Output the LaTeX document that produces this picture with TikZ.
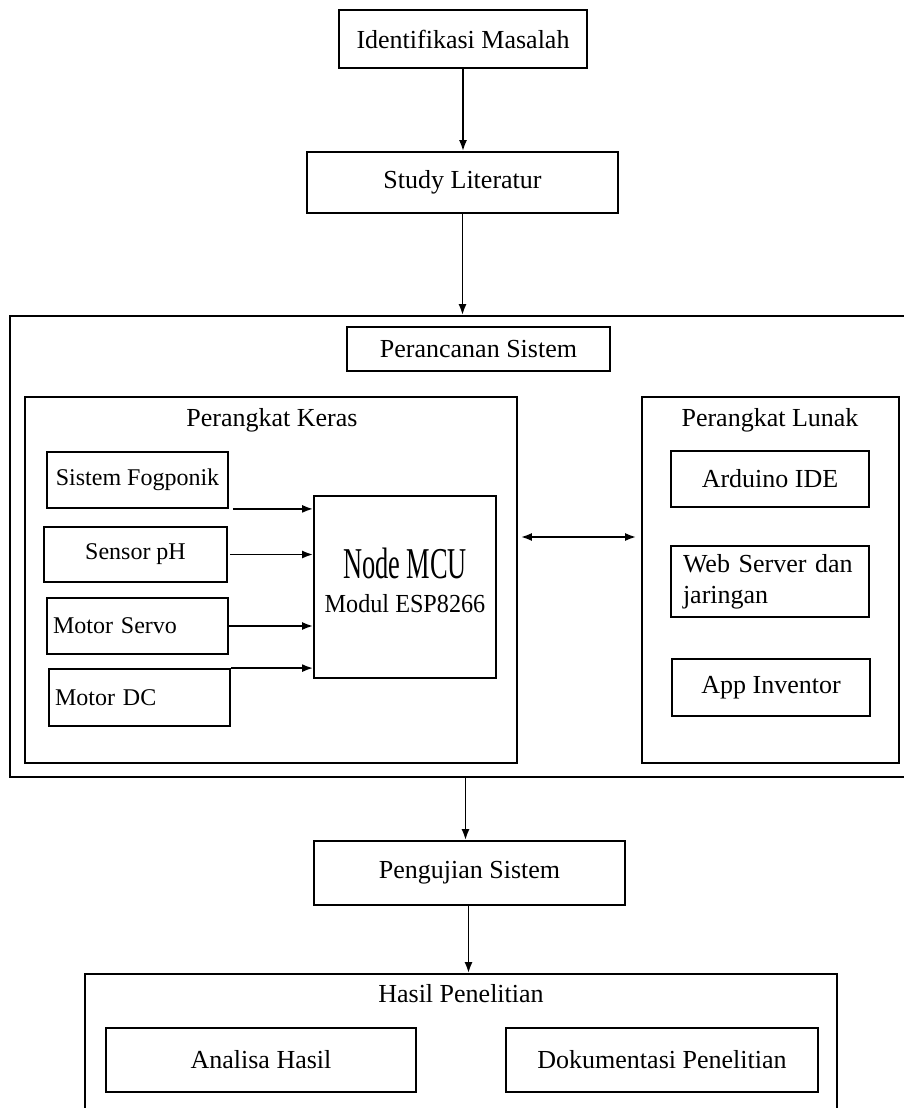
\documentclass[tikz,border=0pt]{standalone}
\usepackage{fontspec}
\setmainfont{Liberation Serif}
\usepackage{graphicx}
\usetikzlibrary{arrows.meta,positioning,calc}

\begin{document}
\begin{tikzpicture}[x=1pt, y=-1pt,
    box/.style={rectangle, draw, line width=1.8pt, inner sep=0pt, align=center,
                font=\fontsize{26}{31}\selectfont},
    hw/.style={box, minimum width=181pt, minimum height=56pt,
               font=\fontsize{24}{29}\selectfont},
    sw/.style={box, minimum width=198pt, minimum height=56pt},
    grp/.style={rectangle, draw, line width=1.8pt, inner sep=0pt},
    ttl/.style={anchor=base, font=\fontsize{26}{31}\selectfont},
    arr/.style={line width=1.8pt, -{Latex[length=11pt,width=8pt]}},
    darr/.style={line width=1.8pt, {Latex[length=11pt,width=8pt]}-{Latex[length=11pt,width=8pt]}}
  ]
    \useasboundingbox (0,0) rectangle (904,1108);
    \clip (0,0) rectangle (904,1108);
    \fill[white] (0,0) rectangle (904,1108);

    % Alur atas
    \node[box, minimum width=248pt, minimum height=58pt] (idm) at (463,39) {Identifikasi Masalah};
    \node[box, minimum width=311pt, minimum height=61pt] (stl) at (462.5,182.5) {Study Literatur};

    % Perancanan sistem
    \node[grp, minimum width=896pt, minimum height=461pt] (sys) at (458,546.5) {};
    \node[box, minimum width=263pt, minimum height=44pt] (prc) at (478.5,349) {Perancanan Sistem};

    % Perangkat keras
    \node[grp, minimum width=492pt, minimum height=366pt] (keras) at (271,580) {};
    \node[ttl] (kerasttl) at (272,426) {Perangkat Keras};
    \node[hw] (fog) at (137.5,480) {Sistem Fogponik};
    \node[hw, minimum width=183pt, minimum height=55pt] (ph) at (135.5,554.5) {Sensor pH};
    \node[hw, text width=169pt, align=left] (servo) at (137.5,626) {Motor Servo};
    \node[hw, text width=169pt, align=left, minimum height=57pt] (dc) at (139.5,697.5) {Motor DC};
    \node[box, minimum width=182pt, minimum height=182pt] (mcu) at (405,587) {};
    \node[align=center, font=\fontsize{26}{31}\selectfont] (mcutxt) at ([yshift=7pt]mcu.center)
      {\scalebox{0.6}[1]{\fontsize{44}{44}\selectfont Node MCU}\\[3pt]\scalebox{0.93}[1]{Modul ESP8266}};

    % Perangkat lunak
    \node[grp, minimum width=257pt, minimum height=366pt] (lunak) at (770.5,580) {};
    \node[ttl] (lunakttl) at (770,426) {Perangkat Lunak};
    \node[sw] (ide) at (770,479) {Arduino IDE};
    \node[sw, minimum height=71pt, text width=174pt, align=left] (web) at (770,581.5) {Web Server dan\\jaringan};
    \node[sw, minimum height=57pt] (app) at (771,687.5) {App Inventor};

    % Alur bawah
    \node[box, minimum width=311pt, minimum height=64pt] (uji) at (469.5,873) {Pengujian Sistem};
    \node[grp, minimum width=752pt, minimum height=138pt] (hasil) at (461,1043) {};
    \node[ttl] (hasilttl) at (461,1002) {Hasil Penelitian};
    \node[box, minimum width=310pt, minimum height=64pt] (ana) at (261,1060) {Analisa Hasil};
    \node[box, minimum width=312pt, minimum height=64pt] (dok) at (662,1060) {Dokumentasi Penelitian};

    % Panah
    \draw[arr] (idm.south) -- (idm.south |- stl.north);
    \draw[arr] (stl.south) -- (stl.south |- sys.north);
    \draw[arr] ([xshift=4pt]fog.south east) -- (fog.south east -| mcu.west);
    \draw[arr] ([xshift=2pt]ph.east) -- (ph.east -| mcu.west);
    \draw[arr] (servo.east) -- (servo.east -| mcu.west);
    \draw[arr] (dc.north east) -- (dc.north east -| mcu.west);
    \draw[darr] ([xshift=3pt,yshift=43pt]keras.east) -- ([xshift=-5pt,yshift=43pt]lunak.west);
    \draw[arr] ([xshift=-4pt]uji.north |- sys.south) -- ([xshift=-4pt]uji.north);
    \draw[arr] ([xshift=-1pt]uji.south) -- ([xshift=-1pt]uji.south |- hasil.north);
\end{tikzpicture}
\end{document}
